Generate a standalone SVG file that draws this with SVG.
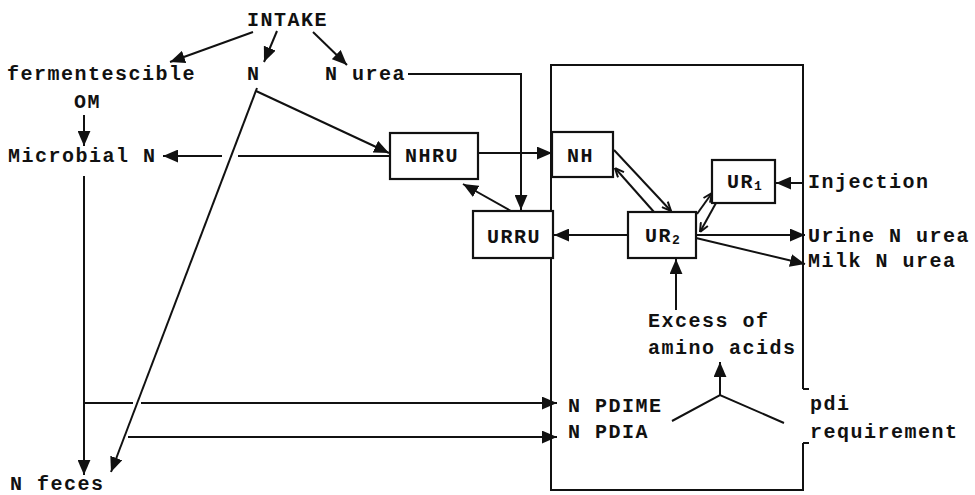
<svg xmlns="http://www.w3.org/2000/svg" width="975" height="495" viewBox="0 0 975 495">
<style>
text{font-family:"Liberation Mono","DejaVu Sans Mono",monospace;font-size:20px;font-weight:bold;letter-spacing:1.5px;fill:#111}
.ln{stroke:#111;stroke-width:2;fill:none}
.bx{stroke:#111;stroke-width:2.2;fill:#fff}
.sub{font-size:13px}
</style>
<defs>
<marker id="ah" viewBox="0 0 14 12" refX="14" refY="6" markerWidth="15" markerHeight="13" orient="auto" markerUnits="userSpaceOnUse"><path d="M0,0 L14,6 L0,12 z" fill="#111"/></marker>
<marker id="sa" viewBox="0 0 10 10" refX="10" refY="5" markerWidth="10" markerHeight="10" orient="auto" markerUnits="userSpaceOnUse"><path d="M1,1 L10,5 L1,9" fill="none" stroke="#111" stroke-width="2"/></marker>
</defs>
<rect width="975" height="495" fill="#fff"/>
<g id="connectors">
<path class="ln" d="M253,32 L170,62" marker-end="url(#ah)"/>
<path class="ln" d="M277,31 L264,62" marker-end="url(#ah)"/>
<path class="ln" d="M313,32 L347,65" marker-end="url(#ah)"/>
<path class="ln" d="M84,115 L84,146" marker-end="url(#ah)"/>
<path class="ln" d="M408,74 L521,74 L521,210" marker-end="url(#ah)"/>
<path class="ln" d="M256,91 L389,153" marker-end="url(#ah)"/>
<path class="ln" d="M257,88 L111,472" marker-end="url(#ah)"/>
<path class="ln" d="M390,156 L238,156"/>
<path class="ln" d="M222,156 L163,156" marker-end="url(#ah)"/>
<path class="ln" d="M84,176 L84,475" marker-end="url(#ah)"/>
<path class="ln" d="M84,403 L133,403"/>
<path class="ln" d="M141,403 L557,403" marker-end="url(#ah)"/>
<path class="ln" d="M128,437 L557,437" marker-end="url(#ah)"/>
<path class="ln" d="M478,153 L552,153" marker-end="url(#ah)"/>
<path class="ln" d="M511,211 L463,184" marker-end="url(#ah)"/>
<path class="ln" d="M628,235 L554,235" marker-end="url(#ah)"/>
<path class="ln" d="M614,150 L671,211" marker-end="url(#sa)"/>
<path class="ln" d="M654,212 L615,168" marker-end="url(#sa)"/>
<path class="ln" d="M697,214 L712,193" marker-end="url(#sa)"/>
<path class="ln" d="M716,203 L700,232" marker-end="url(#sa)"/>
<path class="ln" d="M802,183 L776,183" marker-end="url(#ah)"/>
<path class="ln" d="M696,235 L805,235" marker-end="url(#ah)"/>
<path class="ln" d="M696,238 L805,264" marker-end="url(#ah)"/>
<path class="ln" d="M676,310 L676,259" marker-end="url(#ah)"/>
<path class="ln" d="M720,395 L720,362" marker-end="url(#ah)"/>
<path class="ln" d="M672,421 L720,395 L784,423"/>
</g>
<g id="boundary">
<path class="ln" d="M803,389 L803,65 L551,65 L551,490 L803,490 L803,443"/>
<path class="ln" d="M803,389 L809,389 M803,443 L809,443"/>
</g>
<g id="intake"><text x="247" y="26">INTAKE</text></g>
<g id="ferm"><text x="7" y="80">fermentescible</text><text x="74" y="108">OM</text></g>
<g id="n"><text x="247" y="80">N</text></g>
<g id="nurea"><text x="325" y="80">N urea</text></g>
<g id="microbial"><text x="8" y="162">Microbial N</text></g>
<g id="nfeces"><text x="10" y="490">N feces</text></g>
<g id="nhru"><rect class="bx" x="390" y="133" width="88" height="46"/><text x="405" y="162">NHRU</text></g>
<g id="nh"><rect class="bx" x="552" y="132" width="61" height="45"/><text x="567" y="162">NH</text></g>
<g id="ur1"><rect class="bx" x="712" y="160" width="63" height="43"/><text x="727" y="188">UR<tspan class="sub" dy="2">1</tspan></text></g>
<g id="ur2"><rect class="bx" x="628" y="212" width="68" height="46"/><text x="645" y="242">UR<tspan class="sub" dy="2">2</tspan></text></g>
<g id="urru"><rect class="bx" x="473" y="211" width="80" height="47"/><text x="487" y="243">URRU</text></g>
<g id="injection"><text x="808" y="188">Injection</text></g>
<g id="urine"><text x="808" y="242">Urine N urea</text></g>
<g id="milk"><text x="808" y="267">Milk N urea</text></g>
<g id="excess"><text x="648" y="327">Excess of</text><text x="648" y="354">amino acids</text></g>
<g id="pdime"><text x="568" y="412">N PDIME</text></g>
<g id="pdia"><text x="568" y="438">N PDIA</text></g>
<g id="pdi"><text x="810" y="410">pdi</text><text x="810" y="438">requirement</text></g>
</svg>
